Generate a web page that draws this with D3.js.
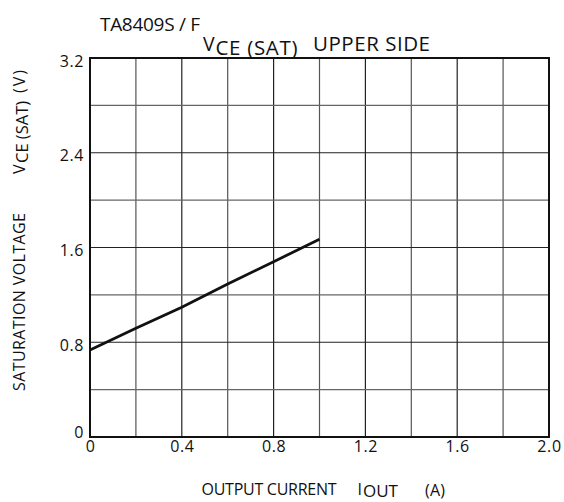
<!DOCTYPE html>
<html><head><meta charset="utf-8">
<script src="https://cdn.jsdelivr.net/npm/d3@7"></script>
<style>body{margin:0;background:#fff}svg{display:block}text{font-family:"Open Sans",sans-serif;fill:#111}</style>
</head><body><div id="c"></div>
<script>
const currentA = [0, 0.2, 0.4, 0.6, 0.8, 1.0];
const vceSat = [0.735, 0.918, 1.095, 1.292, 1.48, 1.67];
const xTicks = [0, 0.4, 0.8, 1.2, 1.6, 2.0];
const yTicks = [0, 0.8, 1.6, 2.4, 3.2];
const xGrid = [0.2,0.4,0.6,0.8,1.0,1.2,1.4,1.6,1.8];
const yGrid = [0.4,0.8,1.2,1.6,2.0,2.4,2.8];

const W=564,H=502;
const m={l:90,r:15,t:58,b:65};
const svg=d3.select("#c").append("svg").attr("width",W).attr("height",H);
const x=d3.scaleLinear().domain([0,2]).range([m.l,W-m.r]);
const y=d3.scaleLinear().domain([0,3.2]).range([H-m.b,m.t]);

svg.append("g").selectAll("line").data(xGrid).join("line")
 .attr("x1",d=>x(d)).attr("x2",d=>x(d)).attr("y1",y(0)).attr("y2",y(3.2))
 .attr("stroke",(d,i)=>i%2?"#222":"#555").attr("stroke-width",1.2);
svg.append("g").selectAll("line").data(yGrid).join("line")
 .attr("y1",d=>y(d)).attr("y2",d=>y(d)).attr("x1",x(0)).attr("x2",x(2))
 .attr("stroke",(d,i)=>i%2?"#222":"#666").attr("stroke-width",1.2);
svg.append("rect").attr("x",x(0)).attr("y",y(3.2)).attr("width",x(2)-x(0)).attr("height",y(0)-y(3.2))
 .attr("fill","none").attr("stroke","#111").attr("stroke-width",2);

const fmt=d=>d===0?"0":d3.format(".1f")(d);
const xa=svg.append("g").attr("transform",`translate(0,${y(0)})`)
 .call(d3.axisBottom(x).tickValues(xTicks).tickSize(0).tickPadding(4).tickFormat(fmt));
xa.select(".domain").remove();
xa.selectAll("text").attr("font-size",16).attr("letter-spacing",0.6).attr("font-family","Open Sans").attr("fill","#111");
const ya=svg.append("g").attr("transform",`translate(${x(0)},0)`)
 .call(d3.axisLeft(y).tickValues(yTicks).tickSize(0).tickPadding(6).tickFormat(fmt));
ya.select(".domain").remove();
ya.selectAll("text").attr("font-size",16).attr("letter-spacing",0.6).attr("font-family","Open Sans").attr("fill","#111")
 .attr("dy",d=>d===0?"0.05em":"0.5em");

svg.append("path").datum(currentA.map((c,i)=>[c,vceSat[i]]))
 .attr("d",d3.line().x(d=>x(d[0])).y(d=>y(d[1])))
 .attr("fill","none").attr("stroke","#111").attr("stroke-width",2.8);

svg.append("text").attr("x",100).attr("y",31).attr("font-size",19).attr("textLength",100).attr("lengthAdjust","spacing").text("TA8409S / F");
svg.append("text").attr("x",203).attr("y",50.5).attr("font-size",19.5).text("V");
svg.append("text").attr("x",215.5).attr("y",55).attr("font-size",20.5).attr("textLength",82).attr("lengthAdjust","spacing").text("CE (SAT)");
svg.append("text").attr("x",313).attr("y",50.5).attr("font-size",20.5).attr("textLength",117).attr("lengthAdjust","spacing").text("UPPER SIDE");

const rot=(py,px)=>`translate(${px},${py}) rotate(-90)`;
svg.append("text").attr("transform",rot(391,25)).attr("font-size",16).attr("textLength",178).attr("lengthAdjust","spacing").text("SATURATION VOLTAGE");
svg.append("text").attr("transform",rot(174,25)).attr("font-size",16).text("V");
svg.append("text").attr("transform",rot(163,28)).attr("font-size",16.5).text("CE (SAT)");
svg.append("text").attr("transform",rot(93,25)).attr("font-size",16).attr("textLength",23).attr("lengthAdjust","spacing").text("(V)");

svg.append("text").attr("x",201.5).attr("y",495).attr("font-size",16).attr("textLength",135).attr("lengthAdjust","spacing").text("OUTPUT CURRENT");
svg.append("text").attr("x",357.5).attr("y",495).attr("font-size",16).text("I");
svg.append("text").attr("x",363).attr("y",497).attr("font-size",17).text("OUT");
svg.append("text").attr("x",425).attr("y",495.5).attr("font-size",16).attr("textLength",20).attr("lengthAdjust","spacing").text("(A)");
</script></body></html>
